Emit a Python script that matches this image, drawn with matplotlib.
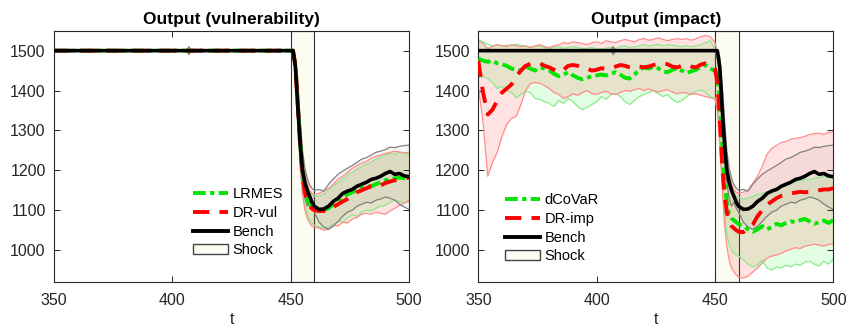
import matplotlib.pyplot as plt
from matplotlib.patches import Rectangle, Patch
from matplotlib.lines import Line2D

plt.rcParams['font.family'] = ['Liberation Sans', 'DejaVu Sans']

# time grids
t_pre = list(range(350, 450, 2))
t_post = [450, 451, 452, 453, 454, 455, 456, 457, 458, 459, 460, 462, 464, 466, 468, 470,
          472, 474, 476, 478, 480, 482, 484, 486, 488, 490, 492, 494, 496, 498, 500]
shock = (450, 460)

# ---- benchmark (same in both panels) ----
bench_post = [1500, 1500, 1460, 1360, 1270, 1200, 1170, 1150, 1135, 1120, 1110, 1102, 1103, 1110, 1122, 1130,
              1142, 1148, 1152, 1160, 1165, 1170, 1177, 1180, 1185, 1192, 1197, 1190, 1192, 1186, 1184]
bench_hi_post = [1500, 1500, 1485, 1420, 1330, 1250, 1205, 1180, 1163, 1155, 1150, 1152, 1148, 1165, 1178, 1190,
                 1198, 1205, 1212, 1220, 1228, 1232, 1238, 1245, 1248, 1252, 1258, 1257, 1260, 1262, 1263]
bench_lo_post = [1500, 1495, 1440, 1330, 1230, 1170, 1130, 1110, 1120, 1105, 1095, 1070, 1058, 1052, 1060, 1072,
                 1085, 1095, 1100, 1110, 1115, 1120, 1118, 1125, 1128, 1133, 1130, 1125, 1115, 1108, 1102]
bench_glitch_t = [350, 406, 407, 408]
bench_hi_glitch = [1500, 1500, 1510, 1500]
bench_lo_glitch = [1500, 1500, 1490, 1500]

# ---- left panel: LRMES and DR-vul ----
lrmes_post = [1500, 1500, 1465, 1370, 1270, 1195, 1150, 1128, 1115, 1108, 1102, 1098, 1100, 1105, 1115, 1125,
              1132, 1140, 1145, 1150, 1155, 1160, 1160, 1165, 1170, 1175, 1178, 1180, 1182, 1180, 1180]
lrmes_hi_post = [1500, 1500, 1480, 1410, 1310, 1235, 1185, 1160, 1145, 1138, 1135, 1135, 1140, 1150, 1160, 1170,
                 1178, 1188, 1195, 1202, 1210, 1215, 1220, 1228, 1232, 1238, 1242, 1240, 1245, 1242, 1240]
lrmes_lo_post = [1500, 1495, 1440, 1330, 1220, 1150, 1110, 1090, 1075, 1068, 1062, 1058, 1055, 1058, 1065, 1072,
                 1070, 1080, 1088, 1085, 1095, 1100, 1098, 1105, 1110, 1112, 1120, 1125, 1122, 1118, 1122]
drvul_post = [1500, 1500, 1462, 1365, 1262, 1190, 1145, 1122, 1110, 1104, 1100, 1098, 1098, 1100, 1108, 1115,
              1122, 1128, 1138, 1145, 1150, 1155, 1160, 1158, 1162, 1168, 1172, 1175, 1178, 1180, 1182]
drvul_hi_post = [1500, 1500, 1482, 1415, 1320, 1240, 1190, 1165, 1150, 1142, 1140, 1142, 1148, 1155, 1165, 1178,
                 1185, 1195, 1205, 1212, 1218, 1222, 1230, 1235, 1238, 1242, 1245, 1248, 1246, 1244, 1245]
drvul_lo_post = [1500, 1495, 1435, 1320, 1210, 1140, 1100, 1080, 1068, 1060, 1058, 1055, 1050, 1052, 1062, 1060,
                 1070, 1068, 1078, 1082, 1090, 1092, 1090, 1095, 1092, 1090, 1098, 1105, 1112, 1118, 1125]

# ---- right panel: dCoVaR and DR-imp ----
dcovar_pre = [1480, 1475, 1472, 1475, 1468, 1466, 1462, 1455, 1452, 1450, 1460, 1455, 1450, 1458, 1455, 1450, 1442,
              1436, 1440, 1446, 1438, 1432, 1428, 1432, 1436, 1438, 1440, 1438, 1442, 1446, 1440, 1432, 1430, 1440,
              1452, 1458, 1455, 1460, 1456, 1448, 1446, 1452, 1456, 1450, 1444, 1448, 1452, 1460, 1464, 1455]
dcovar_post = [1450, 1440, 1380, 1280, 1180, 1120, 1090, 1080, 1075, 1070, 1065, 1060, 1052, 1046, 1052, 1060,
               1052, 1058, 1066, 1062, 1068, 1072, 1070, 1075, 1078, 1072, 1066, 1070, 1074, 1068, 1075]
dcovar_hi_pre = [1528, 1522, 1516, 1512, 1515, 1512, 1514, 1512, 1516, 1514, 1510, 1508, 1510, 1512, 1508, 1505, 1508,
                 1510, 1506, 1508, 1510, 1508, 1505, 1506, 1508, 1505, 1504, 1506, 1508, 1505, 1510, 1512, 1508, 1510,
                 1512, 1515, 1512, 1514, 1516, 1512, 1515, 1514, 1512, 1510, 1512, 1510, 1512, 1515, 1520, 1525]
dcovar_hi_post = [1505, 1480, 1430, 1330, 1240, 1185, 1160, 1148, 1140, 1135, 1132, 1128, 1130, 1135, 1140, 1142,
                  1146, 1150, 1155, 1160, 1165, 1170, 1172, 1175, 1176, 1178, 1180, 1182, 1184, 1182, 1180]
dcovar_lo_pre = [1432, 1435, 1430, 1420, 1405, 1410, 1400, 1395, 1382, 1390, 1398, 1395, 1380, 1378, 1372, 1368, 1360,
                 1375, 1368, 1380, 1372, 1360, 1352, 1358, 1365, 1372, 1385, 1378, 1390, 1392, 1385, 1372, 1365, 1375,
                 1385, 1390, 1395, 1400, 1392, 1385, 1390, 1378, 1370, 1375, 1385, 1392, 1398, 1402, 1395, 1385]
dcovar_lo_post = [1382, 1360, 1290, 1180, 1090, 1040, 1015, 1000, 992, 988, 985, 975, 965, 958, 962, 975,
                  955, 950, 958, 955, 962, 958, 965, 962, 970, 972, 965, 960, 972, 965, 978]

drimp_pre = [1475, 1395, 1340, 1352, 1375, 1395, 1405, 1415, 1435, 1450, 1462, 1467, 1468, 1468, 1462, 1458, 1452,
             1446, 1452, 1462, 1464, 1462, 1458, 1455, 1450, 1452, 1456, 1454, 1456, 1460, 1464, 1462, 1458, 1456,
             1460, 1458, 1460, 1464, 1466, 1468, 1466, 1460, 1458, 1462, 1465, 1460, 1458, 1465, 1468, 1464]
drimp_post = [1455, 1420, 1330, 1220, 1140, 1095, 1070, 1060, 1055, 1050, 1046, 1045, 1055, 1064, 1085, 1100,
              1114, 1122, 1130, 1136, 1138, 1142, 1144, 1146, 1145, 1146, 1148, 1150, 1152, 1152, 1155]
drimp_hi_pre = [1525, 1518, 1505, 1510, 1515, 1512, 1510, 1515, 1512, 1510, 1512, 1508, 1512, 1515, 1510, 1508, 1512,
                1515, 1520, 1518, 1522, 1520, 1518, 1515, 1520, 1522, 1518, 1525, 1522, 1520, 1525, 1528, 1525, 1522,
                1528, 1530, 1526, 1528, 1532, 1528, 1525, 1528, 1530, 1528, 1530, 1526, 1530, 1535, 1538, 1535]
drimp_hi_post = [1520, 1495, 1460, 1390, 1300, 1230, 1190, 1165, 1152, 1145, 1142, 1145, 1150, 1168, 1185, 1210,
                 1240, 1255, 1262, 1270, 1272, 1278, 1280, 1282, 1285, 1290, 1292, 1293, 1290, 1295, 1296]
drimp_lo_pre = [1410, 1320, 1185, 1220, 1245, 1285, 1315, 1330, 1335, 1365, 1400, 1418, 1420, 1418, 1412, 1405, 1395,
                1390, 1380, 1385, 1392, 1388, 1395, 1400, 1392, 1390, 1395, 1398, 1392, 1390, 1395, 1400, 1398, 1402,
                1405, 1400, 1404, 1400, 1396, 1400, 1402, 1396, 1392, 1395, 1394, 1390, 1392, 1388, 1385, 1382]
drimp_lo_post = [1378, 1350, 1270, 1160, 1070, 1010, 975, 955, 945, 938, 932, 930, 935, 945, 955, 968,
                 980, 985, 988, 992, 998, 1002, 1006, 1004, 1010, 1012, 1015, 1012, 1010, 1014, 1016]

GREEN = '#00e600'
RED = '#ff0000'
AX_COL = '#262626'


def draw_band(ax, t, lo, hi, color, edge, alpha=0.11):
    ax.fill_between(t, lo, hi, color=color, alpha=alpha, lw=0, zorder=1)
    ax.plot(t, hi, color=edge, lw=0.9, zorder=2)
    ax.plot(t, lo, color=edge, lw=0.9, zorder=2)


def style_axis(ax, title):
    ax.set_xlim(350, 500)
    ax.set_ylim(920, 1550)
    ax.set_xticks([350, 400, 450, 500])
    ax.set_yticks([1000, 1100, 1200, 1300, 1400, 1500])
    ax.tick_params(direction='in', length=4, width=0.7, top=True, right=True,
                   labelsize=11.5, colors=AX_COL)
    ax.tick_params(axis='x', pad=8)
    ax.tick_params(axis='y', pad=6)
    for s in ax.spines.values():
        s.set_color(AX_COL)
        s.set_linewidth(0.8)
    ax.set_title(title, fontsize=12.5, fontweight='bold', pad=5)
    ax.set_xlabel('t', fontsize=11.5, color=AX_COL, labelpad=3)


def shock_patch(ax):
    r = Rectangle((shock[0], 920), shock[1] - shock[0], 630, facecolor='#fcfcf2',
                  edgecolor='#333333', lw=0.8, zorder=0.5)
    ax.add_patch(r)


def legend_handles(g_lab, r_lab):
    return [Line2D([], [], color=GREEN, lw=2.8, dashes=(3.3, 1.1, 1.1, 1.1), label=g_lab),
            Line2D([], [], color=RED, lw=2.8, dashes=(4.2, 2.6), label=r_lab),
            Line2D([], [], color='black', lw=2.8, label='Bench'),
            Patch(facecolor='#fcfcf2', edgecolor='#444444', lw=1.0, label='Shock')]


fig = plt.figure(figsize=(8.46, 3.28), dpi=100)
ax1 = fig.add_axes([54 / 846, 1 - 282 / 328, 355 / 846, 251.3 / 328])
ax2 = fig.add_axes([478.3 / 846, 1 - 282 / 328, 355 / 846, 251.3 / 328])

# ---------- left: vulnerability ----------
shock_patch(ax1)
t_left = [350] + t_post
draw_band(ax1, t_left, [1500] + lrmes_lo_post, [1500] + lrmes_hi_post, '#00ff00', '#8ee88e')
draw_band(ax1, t_left, [1500] + drvul_lo_post, [1500] + drvul_hi_post, '#ff0000', '#ff8c8c')
t_bench = bench_glitch_t + t_post
draw_band(ax1, t_bench, bench_lo_glitch + bench_lo_post, bench_hi_glitch + bench_hi_post, '#000000', '#808080', 0.035)
ax1.plot(t_left, [1500] + lrmes_post, color=GREEN, lw=2.8, dashes=(3.3, 1.1, 1.1, 1.1), zorder=4)
ax1.plot(t_left, [1500] + drvul_post, color=RED, lw=2.8, dashes=(4.2, 2.6), zorder=4)
ax1.plot(t_left, [1500] + bench_post, color='black', lw=2.6, zorder=5)
style_axis(ax1, 'Output (vulnerability)')
ax1.legend(handles=legend_handles('LRMES', 'DR-vul'), loc='upper left',
           bbox_to_anchor=(186 / 846, 1 - 180 / 328), bbox_transform=fig.transFigure,
           frameon=False, fontsize=10.5, borderpad=0, handlelength=2.4, handletextpad=0.3,
           labelspacing=0.32)

# ---------- right: impact ----------
shock_patch(ax2)
t_right = t_pre + t_post
draw_band(ax2, t_right, dcovar_lo_pre + dcovar_lo_post, dcovar_hi_pre + dcovar_hi_post, '#00ff00', '#8ee88e')
draw_band(ax2, t_right, drimp_lo_pre + drimp_lo_post, drimp_hi_pre + drimp_hi_post, '#ff0000', '#ff8c8c')
draw_band(ax2, t_bench, bench_lo_glitch + bench_lo_post, bench_hi_glitch + bench_hi_post, '#000000', '#808080', 0.035)
ax2.plot(t_right, dcovar_pre + dcovar_post, color=GREEN, lw=2.8, dashes=(3.3, 1.1, 1.1, 1.1), zorder=4)
ax2.plot(t_right, drimp_pre + drimp_post, color=RED, lw=2.8, dashes=(4.2, 2.6), zorder=4)
ax2.plot(t_left, [1500] + bench_post, color='black', lw=2.6, zorder=5)
style_axis(ax2, 'Output (impact)')
ax2.legend(handles=legend_handles('dCoVaR', 'DR-imp'), loc='upper left',
           bbox_to_anchor=(498 / 846, 1 - 186 / 328), bbox_transform=fig.transFigure,
           frameon=False, fontsize=10.5, borderpad=0, handlelength=2.4, handletextpad=0.3,
           labelspacing=0.32)

fig.savefig('out.png', dpi=100)
